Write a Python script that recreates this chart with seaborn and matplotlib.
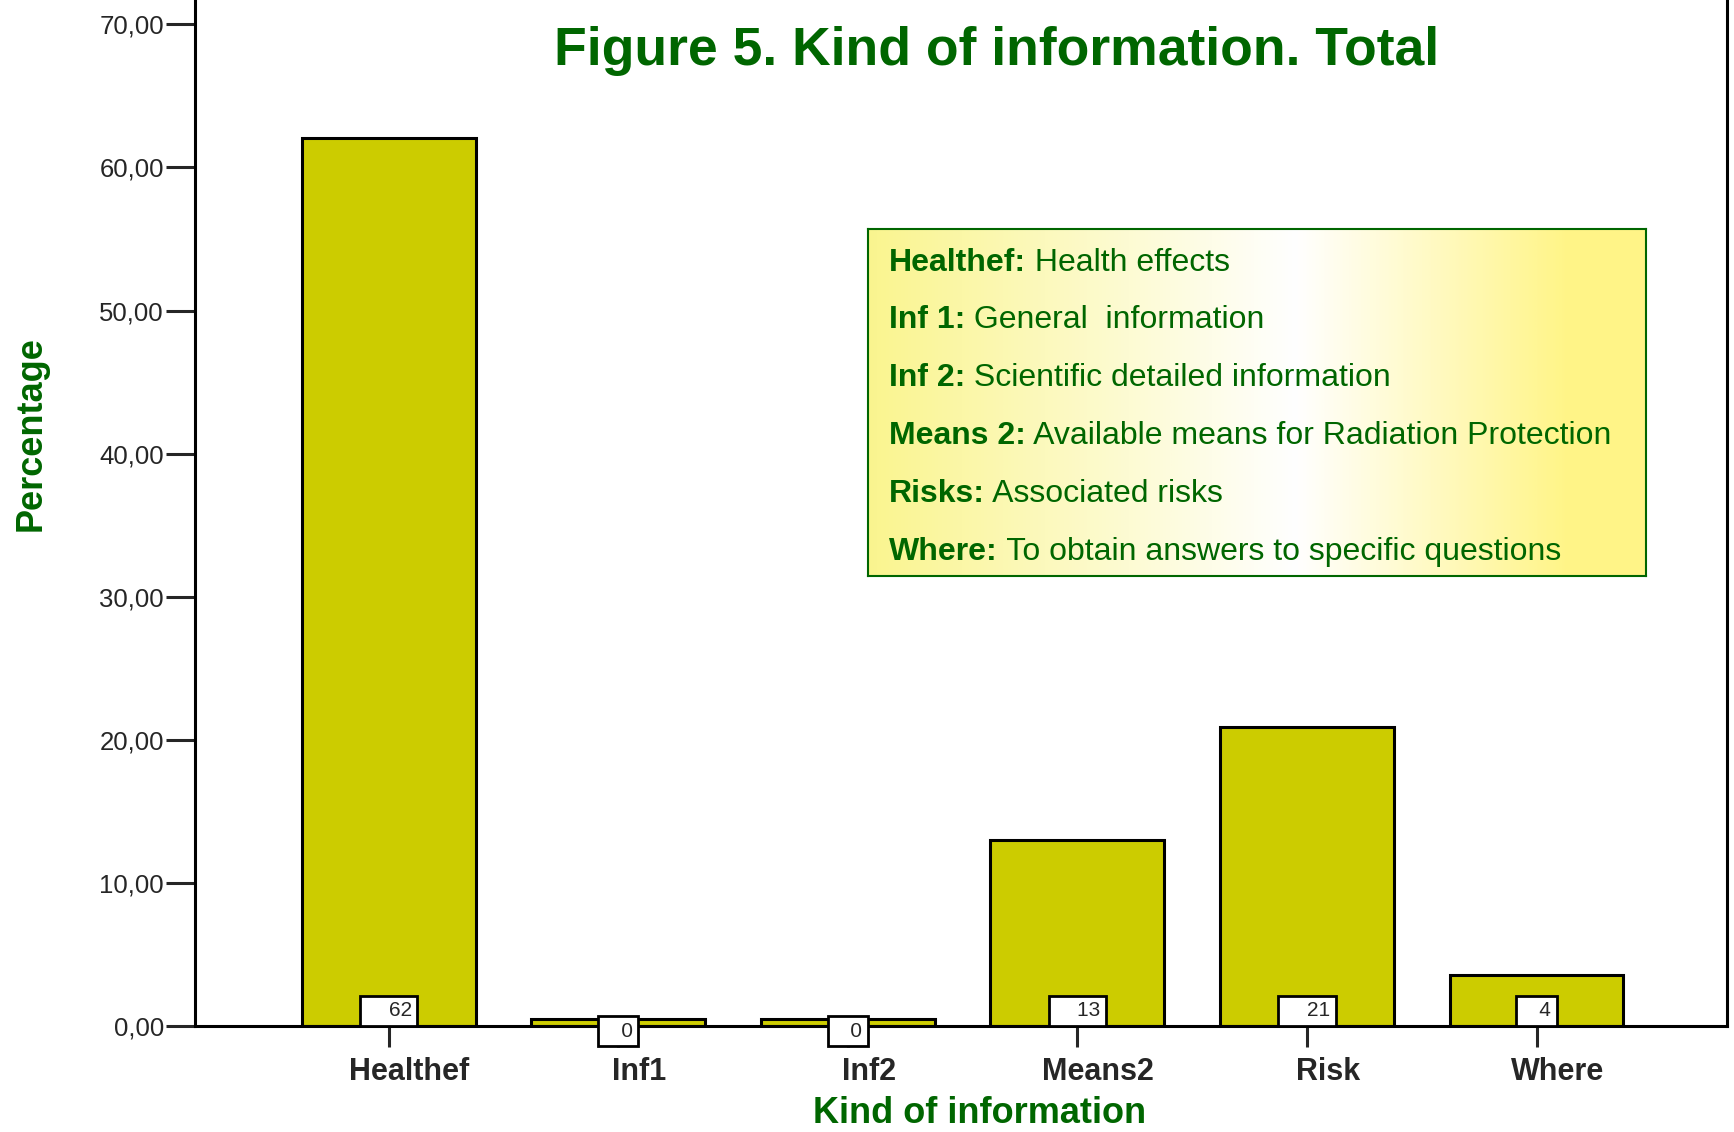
import matplotlib.pyplot as plt
import numpy as np
import pandas as pd
import seaborn as sns
from matplotlib.colors import LinearSegmentedColormap
from matplotlib.ticker import FuncFormatter
from matplotlib.transforms import ScaledTranslation

# data
categories = ['Healthef', 'Inf1', 'Inf2', 'Means2', 'Risk', 'Where']
percent = [62.05, 0.46, 0.46, 12.98, 20.87, 3.55]
bar_labels = [62, 0, 0, 13, 21, 4]

legend_keys = ['Healthef:', 'Inf 1:', 'Inf 2:', 'Means 2:', 'Risks:', 'Where:']
legend_desc = ['Health effects', 'General  information', 'Scientific detailed information',
               'Available means for Radiation Protection', 'Associated risks',
               'To obtain answers to specific questions']

GREEN = '#006600'
BAR = '#cccc00'

sns.set_style('ticks')
plt.rcParams['font.family'] = ['Liberation Sans', 'DejaVu Sans']

df = pd.DataFrame({'kind': categories, 'pct': percent})

fig = plt.figure(figsize=(17.34, 11.32), dpi=100)
ax = fig.add_axes([0.1125, 0.0936, 0.8835, 0.9064])

sns.barplot(data=df, x='kind', y='pct', color=BAR, saturation=1, edgecolor='black',
            linewidth=2.2, width=0.757, ax=ax)

ax.set_xlim(-0.843, 5.83)
ax.set_ylim(0, 71.7)
ax.set_yticks(np.arange(0, 71, 10))
ax.yaxis.set_major_formatter(FuncFormatter(lambda v, p: f'{v:.2f}'.replace('.', ',')))

ax.spines['top'].set_visible(False)
for s in ['left', 'right', 'bottom']:
    ax.spines[s].set_linewidth(2.2)
    ax.spines[s].set_color('black')

ax.tick_params(axis='y', length=21, width=2.2, labelsize=18.5, pad=1.5, direction='out')
ax.tick_params(axis='x', length=15, width=2.2, labelsize=22, pad=7, direction='out')
shift = ScaledTranslation(15 / 72, 0, fig.dpi_scale_trans)
for lbl in ax.get_xticklabels():
    lbl.set_fontweight('bold')
    lbl.set_transform(lbl.get_transform() + shift)

# count boxes at the bar bases
for i, (v, n) in enumerate(zip(percent, bar_labels)):
    if v < 1:
        y, va = 0.31, 'top'
    else:
        y, va = 0.39, 'bottom'
    txt = ' ' * (2 + len(str(n))) + str(n)
    ax.text(i, y, txt, ha='center', va=va, fontsize=15, zorder=5, clip_on=False,
            bbox=dict(boxstyle='square,pad=0.27', fc='white', ec='black', lw=2))

ax.set_xlabel('Kind of information', fontsize=26, fontweight='bold', color=GREEN)
ax.xaxis.set_label_coords(0.512, -0.085)
ax.xaxis.label.set_va('center')
ax.set_ylabel('Percentage', fontsize=26, fontweight='bold', color=GREEN)
ax.yaxis.set_label_coords(-0.107, 0.577)
ax.yaxis.label.set_va('center')

fig.text(0.575, 0.955, 'Figure 5. Kind of information. Total', fontsize=38.5,
         fontweight='bold', color=GREEN, ha='center', va='center')

# legend box with yellow-white-yellow gradient
lax = fig.add_axes([0.5006, 0.4912, 0.4487, 0.3065])
cmap = LinearSegmentedColormap.from_list('grad', [
    (0.0, (0.98, 0.96, 0.56)),
    (0.55, (1.0, 1.0, 1.0)),
    (0.9, (1.0, 0.96, 0.53)),
    (1.0, (1.0, 0.96, 0.53)),
])
lax.imshow(np.linspace(0, 1, 512)[None, :], cmap=cmap, aspect='auto', extent=[0, 1, 0, 1])
lax.set_xlim(0, 1)
lax.set_ylim(0, 1)
lax.set_xticks([])
lax.set_yticks([])
for s in lax.spines.values():
    s.set_color(GREEN)
    s.set_linewidth(1.5)

for i, (k, d) in enumerate(zip(legend_keys, legend_desc)):
    y = 0.903 - i * 0.1666
    t = lax.text(0.027, y, k, fontweight='bold', color=GREEN, fontsize=23, va='center', ha='left')
    lax.annotate(' ' + d, xy=(1, 0), xycoords=t, va='bottom', ha='left', fontsize=23, color=GREEN)

fig.savefig('out.png', dpi=100)
